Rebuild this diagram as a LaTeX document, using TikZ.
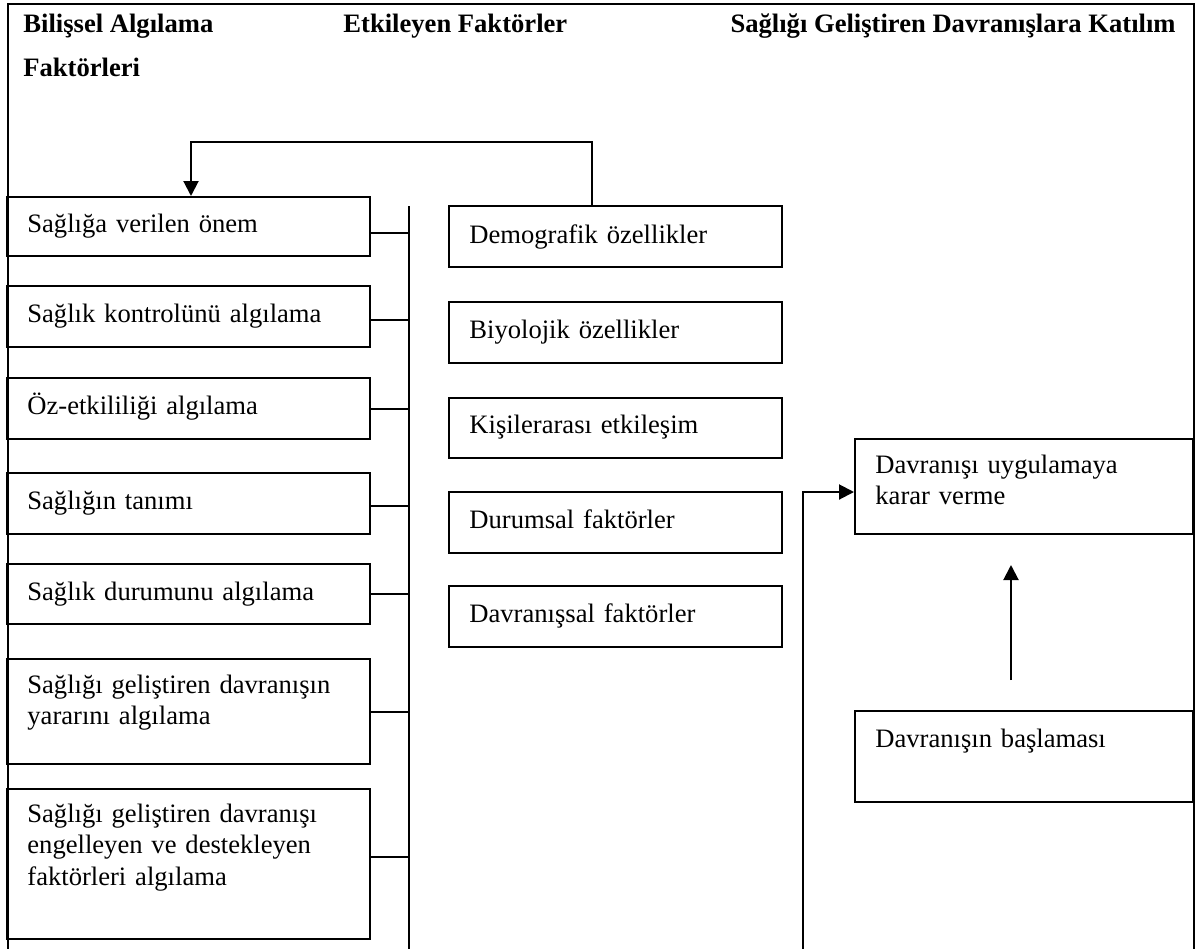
\documentclass[tikz,border=0pt]{standalone}
\usepackage{fontspec}
\setmainfont{Liberation Serif}
\usetikzlibrary{arrows.meta,fit}
\begin{document}
\begin{tikzpicture}[x=0.5pt,y=-0.5pt,
  box/.style={draw,line width=1pt,inner sep=0pt,rectangle},
  txt/.style={anchor=base west,inner sep=0pt,text width=170pt,align=left,font=\fontsize{13.3}{15.75}\selectfont},
  ttl/.style={anchor=base west,inner sep=0pt,font=\fontsize{13.3}{16}\selectfont\bfseries},
  ln/.style={line width=1pt},
  arr/.style={line width=1pt,-{Triangle[length=7.5pt,width=7.5pt]}}
]
\useasboundingbox (0,0) rectangle (1196,949);
% frame
\draw[ln] (8,949) -- (8,4) -- (1194,4) -- (1194,949);
% titles
\node[ttl] (h1) at (23,32) {Bilişsel Algılama};
\node[ttl] (h1b) at (23,76) {Faktörleri};
\node[ttl] (h2) at (343,32) {Etkileyen Faktörler};
\node[ttl,anchor=base east] (h3) at (1176,32) {Sağlığı Geliştiren Davranışlara Katılım};
% left boxes
\node[box,fit={(7,197) (370,256)}] (b1) {};
\node[box,fit={(7,286) (370,347)}] (b2) {};
\node[box,fit={(7,378) (370,439)}] (b3) {};
\node[box,fit={(7,473) (370,534)}] (b4) {};
\node[box,fit={(7,564) (370,624)}] (b5) {};
\node[box,fit={(7,659) (370,764)}] (b6) {};
\node[box,fit={(7,789) (370,939)}] (b7) {};
\node[txt] (t1) at (27,232) {Sağlığa verilen önem};
\node[txt] (t2) at (27,322) {Sağlık kontrolünü algılama};
\node[txt] (t3) at (27,414) {Öz-etkililiği algılama};
\node[txt] (t4) at (27,509) {Sağlığın tanımı};
\node[txt] (t5) at (27,600) {Sağlık durumunu algılama};
\node[txt] (t6) at (27,693) {Sağlığı geliştiren davranışın\\yararını algılama};
\node[txt] (t7) at (27,822) {Sağlığı geliştiren davranışı\\engelleyen ve destekleyen\\faktörleri algılama};
% middle boxes
\node[box,fit={(449,206) (782,267)}] (m1) {};
\node[box,fit={(449,302) (782,363)}] (m2) {};
\node[box,fit={(449,398) (782,458)}] (m3) {};
\node[box,fit={(449,492) (782,553)}] (m4) {};
\node[box,fit={(449,586) (782,647)}] (m5) {};
\node[txt] (u1) at (469,243) {Demografik özellikler};
\node[txt] (u2) at (469,338) {Biyolojik özellikler};
\node[txt] (u3) at (469,433) {Kişilerarası etkileşim};
\node[txt] (u4) at (469,528) {Durumsal faktörler};
\node[txt] (u5) at (469,622) {Davranışsal faktörler};
% right boxes
\node[box,fit={(855,439) (1193,534)}] (r1) {};
\node[box,fit={(855,711) (1193,802)}] (r2) {};
\node[txt,text width=155pt] (v1) at (875,473) {Davranışı uygulamaya\\karar verme};
\node[txt,text width=155pt] (v2) at (875,747) {Davranışın başlaması};
% bus
\coordinate (bustop) at (409,206);
\coordinate (busbot) at (409,949);
\draw[ln] (bustop) -- (busbot);
\draw[ln] ([yshift=-3.25pt]b1.east) -- ([yshift=-3.25pt]b1.east -| bustop);
\draw[ln] ([yshift=-1.75pt]b2.east) -- ([yshift=-1.75pt]b2.east -| bustop);
\draw[ln] (b3.east) -- (b3.east -| bustop);
\draw[ln] ([yshift=-1.25pt]b4.east) -- ([yshift=-1.25pt]b4.east -| bustop);
\draw[ln] (b5.east) -- (b5.east -| bustop);
\draw[ln] (b6.east) -- (b6.east -| bustop);
\draw[ln] ([yshift=3.5pt]b7.east) -- ([yshift=3.5pt]b7.east -| bustop);
% top feedback arrow
\coordinate (topr) at (592,142);
\coordinate (topl) at (191,142);
\draw[arr] (topr |- m1.north) -- (topr) -- (topl) -- (topl |- b1.north);
% right arrows
\coordinate (vb) at (803,949);
\coordinate (rin) at (803,492);
\draw[arr] (vb) -- (rin) -- (rin -| r1.west);
\coordinate (ua) at (1011,680);
\coordinate (ub) at (1011,565);
\draw[arr] (ua) -- (ub);
\end{tikzpicture}
\end{document}
